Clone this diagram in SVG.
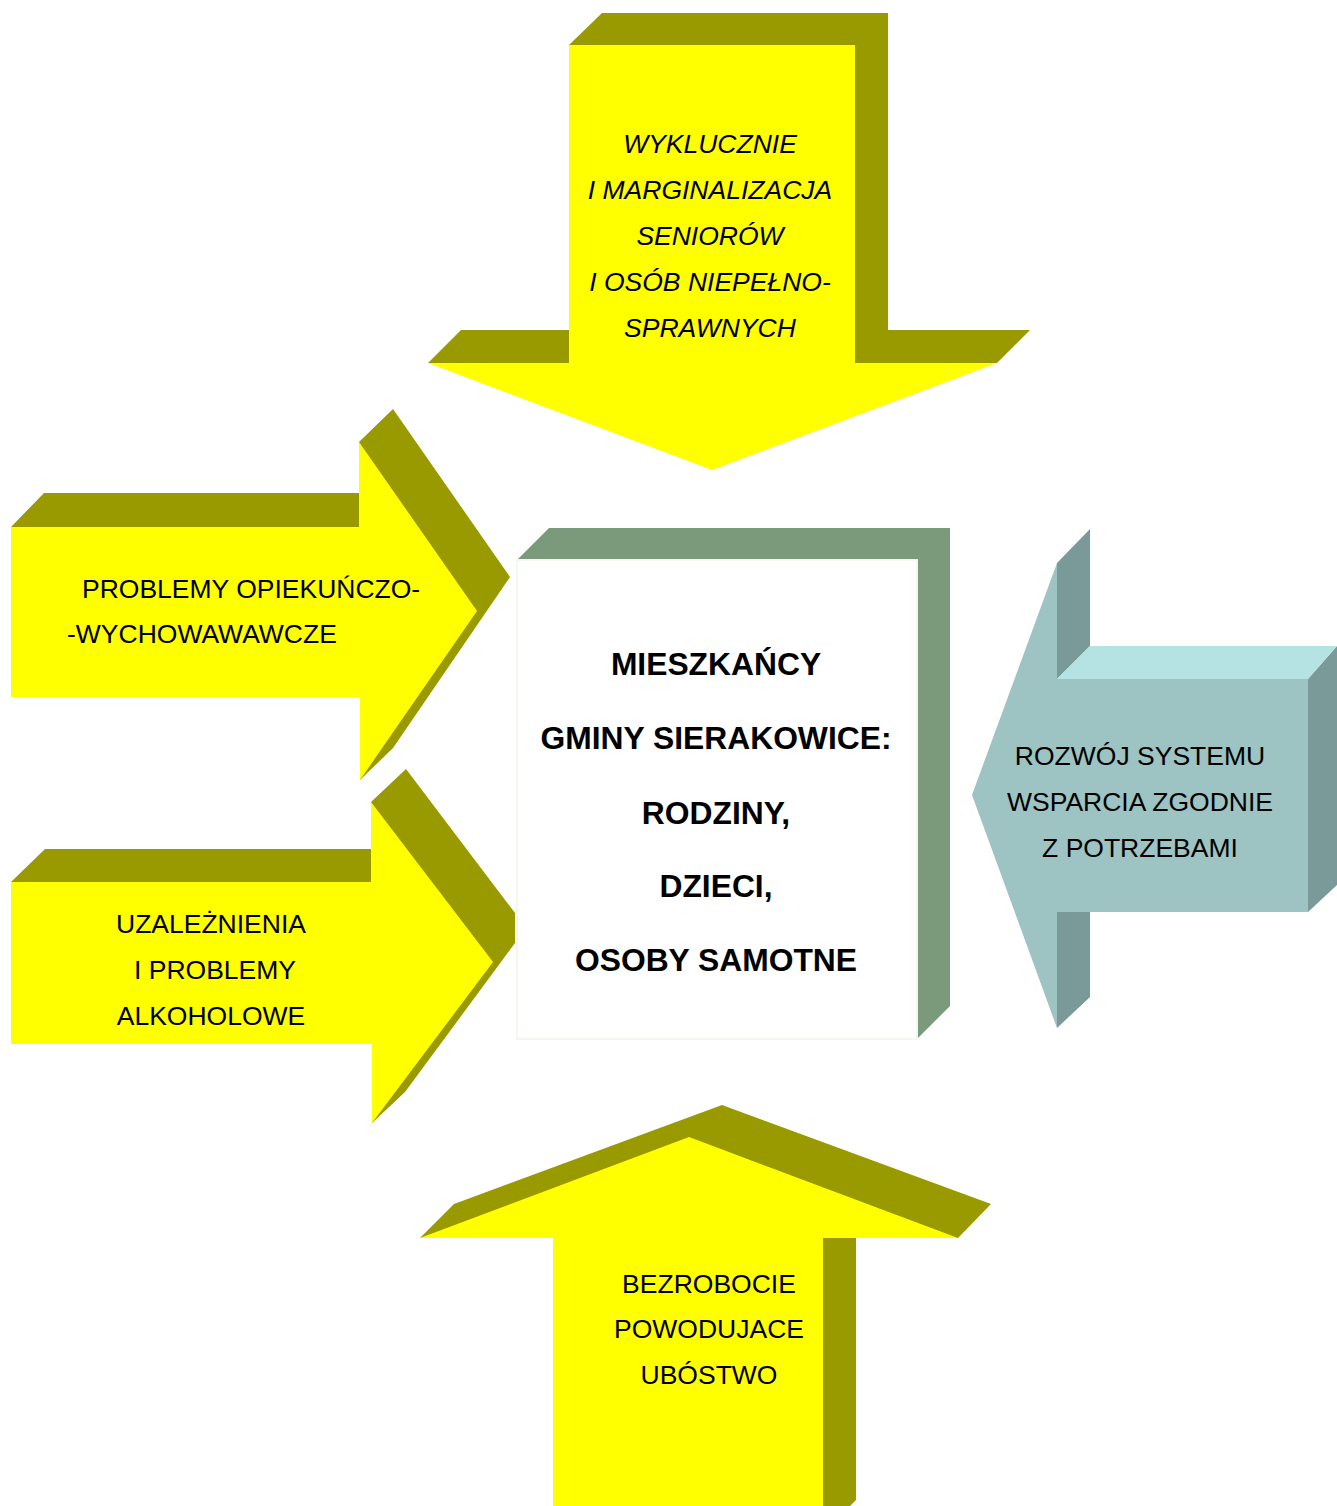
<svg xmlns="http://www.w3.org/2000/svg" width="1337" height="1506" viewBox="0 0 1337 1506">
<style>
.olive{fill:#999900}
.yel{fill:#ffff00}
.tealF{fill:#9dc3c2}
.tealT{fill:#b5e2e2}
.tealD{fill:#7a9999}
.boxD{fill:#7b997b}
.t{font-family:"Liberation Sans",Arial,sans-serif;font-size:26.5px;fill:#000}
.i{font-style:italic}
.b{font-weight:bold;font-size:31.8px}
.m{text-anchor:middle}
</style>
<rect width="1337" height="1506" fill="#ffffff"/>
<g id="top-arrow">
<polygon class="olive" points="428,363 461,330 569,330 569,45 602,13 888,13 888,330 1030,330 997,363"/>
<polygon class="yel" points="569,45 855,45 855,363 997,363 712,470 428,363 569,363"/>
<text class="t i m" x="710"><tspan x="710" y="153">WYKLUCZNIE</tspan><tspan x="710" y="199">I MARGINALIZACJA</tspan><tspan x="710" y="245">SENIORÓW</tspan><tspan x="710" y="291">I OSÓB NIEPEŁNO-</tspan><tspan x="710" y="337">SPRAWNYCH</tspan></text>
</g>
<g id="left-arrow-1">
<polygon class="olive" points="11,527 44,493 359,493 359,442 393,409 510,577 393,748 360,780 360,527"/>
<polygon class="yel" points="11,527 359,527 359,442 477,611 360,780 360,697 11,697"/>
<text class="t"><tspan x="82" y="598">PROBLEMY OPIEKUŃCZO-</tspan><tspan x="67" y="643">-WYCHOWAWAWCZE</tspan></text>
</g>
<g id="left-arrow-2">
<polygon class="olive" points="11,882 45,849 371,849 371,802 406,769 515,913 515,943 405,1092 372,1123 372,882"/>
<polygon class="yel" points="11,882 371,882 371,802 493,962 372,1123 372,1044 11,1044"/>
<text class="t m"><tspan x="211" y="933">UZALEŻNIENIA</tspan><tspan x="215" y="979">I PROBLEMY</tspan><tspan x="211" y="1025">ALKOHOLOWE</tspan></text>
</g>
<g id="center-box">
<polygon class="boxD" points="517,560 549,528 950,528 950,1006 917,1039 917,560"/>
<rect x="517" y="560" width="400" height="479" fill="#ffffff" stroke="#f2f7f0" stroke-width="2"/>
<text class="t b m"><tspan x="716" y="675">MIESZKAŃCY</tspan><tspan x="716" y="749">GMINY SIERAKOWICE:</tspan><tspan x="716" y="824">RODZINY,</tspan><tspan x="716" y="897">DZIECI,</tspan><tspan x="716" y="971">OSOBY SAMOTNE</tspan></text>
</g>
<g id="right-arrow">
<polygon class="tealD" points="1057,563 1090,529 1090,646 1057,679"/>
<polygon class="tealD" points="1057,912 1090,912 1090,997 1057,1028"/>
<polygon class="tealD" points="1308,679 1337,646 1337,885 1308,912"/>
<polygon class="tealT" points="1057,679 1090,646 1337,646 1308,679"/>
<polygon class="tealF" points="1057,563 1057,679 1308,679 1308,912 1057,912 1057,1028 972,795"/>
<text class="t m"><tspan x="1140" y="765">ROZWÓJ SYSTEMU</tspan><tspan x="1140" y="811">WSPARCIA ZGODNIE</tspan><tspan x="1140" y="857">Z POTRZEBAMI</tspan></text>
</g>
<g id="bottom-arrow">
<polygon class="olive" points="420,1238 454,1204 722,1105 991,1204 958,1238"/>
<polygon class="olive" points="823,1238 856,1238 856,1500 850,1506 823,1506"/>
<polygon class="yel" points="420,1238 689,1137 958,1238 823,1238 823,1506 553,1506 553,1238"/>
<text class="t m"><tspan x="709" y="1293">BEZROBOCIE</tspan><tspan x="709" y="1338">POWODUJACE</tspan><tspan x="709" y="1384">UBÓSTWO</tspan></text>
</g>
<g id="connectors"/>
</svg>
